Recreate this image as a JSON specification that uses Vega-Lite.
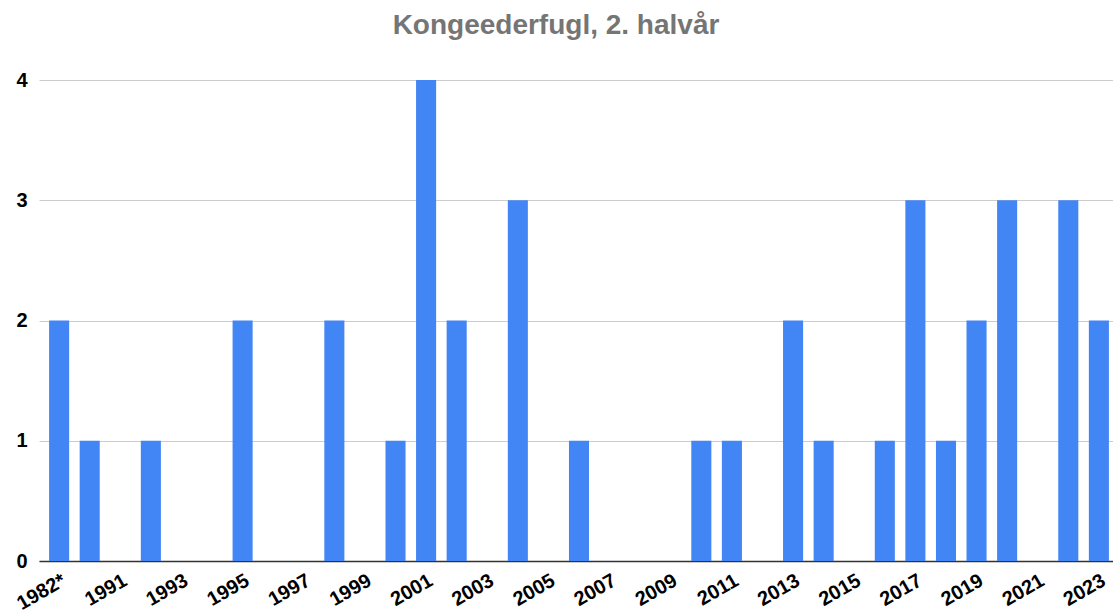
{
  "$schema": "https://vega.github.io/schema/vega-lite/v6.json",
  "autosize": "none",
  "width": 1080,
  "height": 481,
  "padding": {"left": 39, "top": 80, "right": 0, "bottom": 54},
  "background": "white",
  "title": {"text": "Kongeederfugl, 2. halvår", "font": "Liberation Sans", "fontSize": 28, "fontWeight": "bold", "color": "#757575", "offset": 30, "anchor": "middle", "dx": -23},
  "data": {"values": [
    {"year": "1982*", "count": 2},
    {"year": "1990", "count": 1},
    {"year": "1991", "count": 0},
    {"year": "1992", "count": 1},
    {"year": "1993", "count": 0},
    {"year": "1994", "count": 0},
    {"year": "1995", "count": 2},
    {"year": "1996", "count": 0},
    {"year": "1997", "count": 0},
    {"year": "1998", "count": 2},
    {"year": "1999", "count": 0},
    {"year": "2000", "count": 1},
    {"year": "2001", "count": 4},
    {"year": "2002", "count": 2},
    {"year": "2003", "count": 0},
    {"year": "2004", "count": 3},
    {"year": "2005", "count": 0},
    {"year": "2006", "count": 1},
    {"year": "2007", "count": 0},
    {"year": "2008", "count": 0},
    {"year": "2009", "count": 0},
    {"year": "2010", "count": 1},
    {"year": "2011", "count": 1},
    {"year": "2012", "count": 0},
    {"year": "2013", "count": 2},
    {"year": "2014", "count": 1},
    {"year": "2015", "count": 0},
    {"year": "2016", "count": 1},
    {"year": "2017", "count": 3},
    {"year": "2018", "count": 1},
    {"year": "2019", "count": 2},
    {"year": "2020", "count": 3},
    {"year": "2021", "count": 0},
    {"year": "2022", "count": 3},
    {"year": "2023", "count": 2}
  ]},
  "mark": {"type": "bar", "color": "#4285F4"},
  "encoding": {
    "x": {
      "field": "year", "type": "nominal", "sort": null,
      "scale": {"paddingInner": 0.344, "paddingOuter": 0.33},
      "axis": {
        "title": null,
        "labelExpr": "(datum.index * 34) % 2 == 0 ? datum.label : ''",
        "labelAngle": -30,
        "labelAlign": "right",
        "labelBaseline": "top",
        "labelFont": "Liberation Sans",
        "labelFontSize": 20,
        "labelFontWeight": "bold",
        "labelColor": "#000000",
        "labelPadding": 9,
        "labelDx": 4,
        "labelOverlap": false,
        "labelBound": false,
        "labelFlush": false,
        "ticks": false,
        "domainColor": "#333333",
        "domainWidth": 1.5,
        "grid": false
      }
    },
    "y": {
      "field": "count", "type": "quantitative",
      "scale": {"domain": [0, 4], "nice": false},
      "axis": {
        "title": null,
        "values": [0, 1, 2, 3, 4],
        "labelFont": "Liberation Sans",
        "labelFontSize": 20,
        "labelFontWeight": "bold",
        "labelColor": "#000000",
        "labelPadding": 12,
        "ticks": false,
        "domain": false,
        "gridColor": "#cccccc",
        "gridWidth": 1
      }
    }
  },
  "config": {"view": {"stroke": null}}
}
